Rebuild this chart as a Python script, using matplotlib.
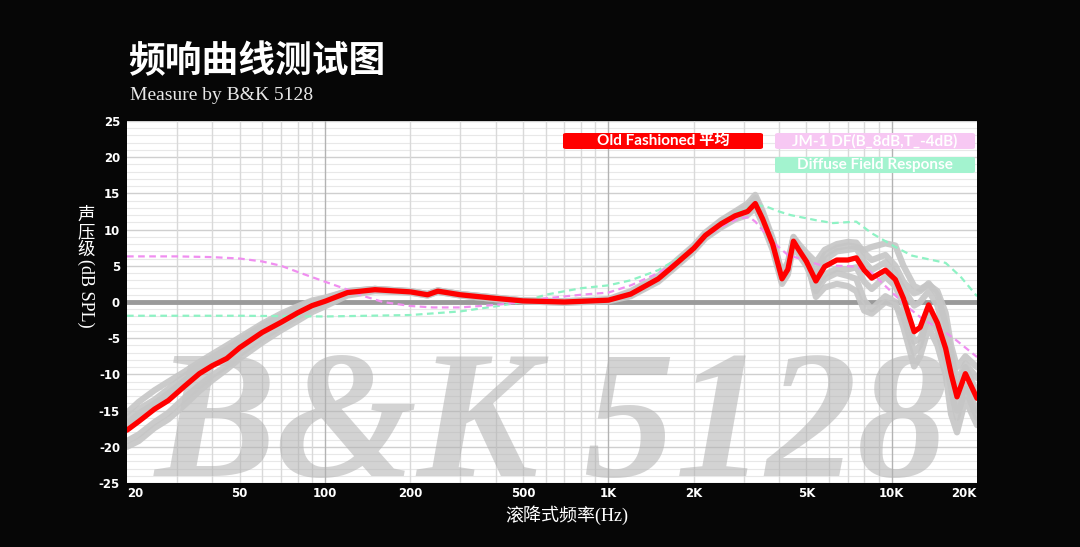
import matplotlib.pyplot as plt
from matplotlib.patches import FancyBboxPatch

# frequency grid used for the measured curves (Hz)
freq = [20, 22, 25, 28, 32, 36, 40, 45, 50, 60, 70, 80, 90, 100, 120, 150, 200, 230, 250, 300,
        400, 500, 700, 1000, 1200, 1500, 1700, 2000, 2200, 2500, 2800, 3100, 3300, 3500, 3800,
        4100, 4300, 4500, 4700, 5000, 5400, 5800, 6400, 7000, 7500, 8000, 8500, 9500, 10300,
        11000, 12000, 12600, 13500, 14500, 15500, 16200, 17000, 18200, 20000]

# Old Fashioned average (red)
avg_db = [-17.7, -16.5, -14.8, -13.6, -11.6, -9.9, -8.8, -7.8, -6.3, -4.2, -2.8, -1.5, -0.5, 0.1,
          1.3, 1.7, 1.4, 1.0, 1.5, 1.0, 0.5, 0.15, 0.0, 0.25, 1.1, 3.2, 5.0, 7.4, 9.2, 10.8, 11.9,
          12.5, 13.6, 11.5, 8.0, 3.2, 4.5, 8.4, 7.2, 5.6, 2.9, 4.9, 5.8, 5.8, 6.1, 4.4, 3.3, 4.4,
          3.1, 0.5, -4.1, -3.5, -0.4, -2.9, -6.4, -9.9, -13.1, -9.9, -13.3]

# individual measurements (gray)
meas_1 = [-15.3, -13.8, -12.2, -11.0, -9.6, -8.3, -7.2, -6.0, -4.9, -3.0, -1.6, -0.6, 0.2, 0.6,
          1.5, 1.8, 1.5, 1.1, 1.6, 1.1, 0.6, 0.2, 0.1, 0.4, 1.5, 3.6, 5.4, 7.8, 9.6, 11.3, 12.5,
          13.6, 14.8, 12.6, 8.8, 4.0, 5.5, 9.0, 8.0, 6.8, 5.5, 7.2, 8.0, 8.3, 8.2, 6.8, 5.8, 6.5,
          5.0, 2.8, 1.2, 1.5, 2.6, 1.0, -3.0, -7.0, -11.0, -8.5, -10.5]
meas_2 = [-20.0, -19.2, -17.4, -16.2, -14.2, -12.3, -10.8, -9.3, -7.8, -5.6, -3.9, -2.6, -1.4, -0.6,
          0.9, 1.5, 1.3, 0.9, 1.4, 0.9, 0.4, 0.1, -0.1, 0.1, 0.8, 2.8, 4.6, 7.0, 8.8, 10.3, 11.4,
          12.0, 13.0, 10.8, 7.2, 2.5, 3.8, 7.8, 6.5, 5.0, 2.0, 3.8, 4.6, 4.5, 4.8, 2.8, 1.8, 3.5,
          2.2, -0.5, -5.5, -5.0, -2.0, -4.0, -8.0, -11.5, -15.0, -11.5, -15.0]
meas_3 = [-16.8, -15.4, -14.0, -12.6, -10.8, -9.2, -8.0, -6.9, -5.6, -3.6, -2.2, -1.0, -0.2, 0.4,
          1.4, 1.8, 1.4, 1.0, 1.5, 1.0, 0.5, 0.2, 0.0, 0.3, 1.2, 3.4, 5.2, 7.6, 9.4, 11.0, 12.2,
          12.8, 14.0, 12.0, 8.4, 3.6, 5.0, 8.8, 7.6, 6.0, 0.7, 2.0, 2.5, 2.2, 1.5, -1.2, -1.6, 0.0,
          -0.5, -2.0, -7.0, -6.0, -1.5, -3.5, -7.5, -12.0, -16.0, -12.0, -16.0]
meas_4 = [-16.0, -14.8, -13.5, -12.0, -10.2, -8.8, -7.6, -6.5, -5.3, -3.3, -1.9, -0.8, 0.0, 0.5,
          1.5, 1.8, 1.5, 1.1, 1.6, 1.1, 0.6, 0.2, 0.1, 0.3, 1.3, 3.4, 5.2, 7.5, 9.4, 11.2, 12.4,
          13.2, 14.3, 12.2, 8.6, 3.8, 5.2, 8.8, 7.5, 6.2, 4.2, 6.5, 7.5, 7.8, 7.6, 7.2, 7.6, 8.1,
          7.8, 5.0, 2.2, 1.8, 2.4, 1.5, -1.5, -6.0, -9.0, -7.5, -9.0]
meas_5 = [-19.2, -18.3, -16.6, -15.3, -13.2, -11.5, -10.1, -8.8, -7.2, -5.0, -3.4, -2.1, -1.0, -0.3,
          1.1, 1.6, 1.3, 0.9, 1.4, 0.9, 0.4, 0.1, -0.1, 0.2, 0.9, 3.0, 4.8, 7.2, 9.0, 10.5, 11.6,
          12.3, 13.3, 11.2, 7.6, 2.8, 4.3, 8.2, 7.0, 5.4, 1.5, 3.2, 4.0, 3.6, 3.2, 0.2, -1.0, 0.8,
          0.0, -3.5, -8.9, -7.5, -3.5, -6.0, -10.0, -15.5, -18.0, -13.5, -17.0]
meas_6 = [-17.0, -15.8, -14.4, -13.0, -11.2, -9.5, -8.4, -7.3, -6.0, -3.9, -2.5, -1.2, -0.3, 0.3,
          1.4, 1.8, 1.5, 1.1, 1.6, 1.1, 0.6, 0.2, 0.1, 0.3, 1.2, 3.3, 5.1, 7.5, 9.3, 10.9, 12.2,
          13.0, 14.3, 12.0, 8.2, 3.4, 4.8, 8.6, 7.4, 5.9, 3.5, 5.8, 7.0, 7.2, 7.4, 5.6, 4.4, 5.5,
          4.0, 1.8, -0.5, 0.0, 1.5, -0.5, -5.0, -8.5, -12.5, -9.0, -12.5]
measurements = [meas_1, meas_2, meas_3, meas_4, meas_5, meas_6]

# JM-1 DF target (pink dashed)
jm_freq = [20, 30, 40, 50, 60, 70, 82, 100, 122, 140, 160, 200, 240, 300, 400, 500, 600, 800,
           1000, 1200, 1500, 1700, 1950, 2200, 2500, 2900, 3150, 3300, 3800, 4300, 5000, 5600,
           6500, 7400, 8400, 9800, 11300, 13000, 15100, 16800, 20000]
jm_db = [6.3, 6.3, 6.2, 6.0, 5.6, 5.0, 4.0, 2.8, 1.6, 0.7, 0.0, -0.55, -0.75, -0.75, -0.4, 0.0,
         0.5, 1.0, 1.3, 2.3, 4.0, 5.3, 6.9, 9.0, 10.4, 11.6, 11.7, 11.1, 8.3, 6.5, 5.7, 5.1, 5.0,
         4.9, 4.2, 1.7, -0.6, -2.5, -3.9, -5.2, -7.6]

# Diffuse field response (green dashed)
df_freq = [20, 50, 100, 200, 300, 400, 500, 600, 800, 1000, 1200, 1500, 1850, 2200, 2500, 2900,
           3300, 3600, 4000, 4400, 5400, 6200, 7500, 8500, 10300, 11800, 13500, 15500, 17500, 20000]
df_db = [-1.9, -1.9, -2.0, -1.8, -1.3, -0.6, 0.0, 1.0, 1.9, 2.3, 3.0, 4.4, 6.5, 9.2, 11.1, 12.5,
         13.4, 13.2, 12.5, 12.0, 11.3, 10.9, 11.1, 9.5, 7.6, 6.4, 5.9, 5.4, 3.5, 0.8]

x_ticks = [20, 50, 100, 200, 500, 1000, 2000, 5000, 10000, 20000]
x_labels = ['20', '50', '100', '200', '500', '1K', '2K', '5K', '10K', '20K']
y_ticks = [25, 20, 15, 10, 5, 0, -5, -10, -15, -20, -25]

W, H = 1080, 547
fig = plt.figure(figsize=(W / 100, H / 100), dpi=100)
fig.patch.set_facecolor('#060606')

# plot area in pixels: x 127..977, y 121..483
ax = fig.add_axes([127 / W, (H - 483) / H, 850 / W, 362 / H])
ax.set_facecolor('white')
ax.set_xscale('log')
ax.set_xlim(20, 20000)
ax.set_ylim(-25, 25)
for s in ax.spines.values():
    s.set_visible(False)

# grid
for v in range(-25, 26):
    if v == 0:
        continue
    if v % 5 == 0:
        ax.axhline(v, color='#cfcfcf', lw=1.0, zorder=1)
    else:
        ax.axhline(v, color='#e8e8e8', lw=0.8, zorder=1)
for dec in [10, 100, 1000, 10000]:
    for m in range(1, 10):
        f = m * dec
        if f <= 20 or f >= 20000:
            continue
        ax.axvline(f, color='#b3b3b3' if m == 1 else '#d9d9d9', lw=1.0, zorder=1)
ax.axhline(0, color='#9a9a9a', lw=3.5, zorder=1.2)

# watermark
ax.text(0.5, 0.018, 'B&K 5128', transform=ax.transAxes, ha='center', va='baseline',
        fontsize=131, family='Liberation Serif', weight='bold', style='italic',
        color='#b0b0b0', alpha=0.55, zorder=1.5, clip_on=True)

# curves
for m in measurements:
    ax.plot(freq, m, color='#c6c6c6', lw=4.5, alpha=0.9, zorder=3,
            solid_joinstyle='round', solid_capstyle='round')
ax.plot(df_freq, df_db, color='#8ef2c4', lw=1.6, ls=(0, (3, 2)), zorder=4)
ax.plot(jm_freq, jm_db, color='#f08ef0', lw=1.6, ls=(0, (3, 2)), zorder=4)
ax.plot(freq, avg_db, color='#ff0000', lw=3.8, zorder=5,
        solid_joinstyle='round', solid_capstyle='round')

# ticks
ax.set_xticks(x_ticks)
ax.set_xticklabels(x_labels)
ax.xaxis.set_minor_locator(plt.NullLocator())
ax.set_yticks(y_ticks)
ax.set_yticklabels([str(v) for v in y_ticks])
ax.tick_params(length=0, colors='white', labelsize=8.5)
ax.tick_params(axis='x', pad=3)
ax.tick_params(axis='y', pad=5)
for lab in ax.get_xticklabels() + ax.get_yticklabels():
    lab.set_fontweight('bold')
    lab.set_family('DejaVu Sans')
xl = ax.get_xticklabels()
xl[0].set_ha('left')
xl[-1].set_ha('right')


# legend boxes, drawn in pixel coordinates of the figure
def legend_box(x0, y0, x1, y1, color, text):
    box = FancyBboxPatch((x0 / W, 1 - y1 / H), (x1 - x0) / W, (y1 - y0) / H,
                         boxstyle='round,pad=0,rounding_size=0.003',
                         transform=fig.transFigure, facecolor=color, edgecolor='none',
                         zorder=10)
    fig.add_artist(box)
    fig.text((x0 + x1) / 2 / W, 1 - (y0 + y1) / 2 / H, text, ha='center', va='center',
             color='white', fontsize=11, weight='bold',
             family=['Lato', 'Noto Sans CJK SC'], zorder=11)


legend_box(563, 133, 763, 149, '#ff0000', 'Old Fashioned 平均')
legend_box(775, 133, 975, 149, '#f7c8f3', 'JM-1 DF(B_8dB,T_-4dB)')
legend_box(775, 157, 975, 173, '#a3f3cf', 'Diffuse Field Response')

# titles
fig.text(128 / W, 1 - 62 / H, '频响曲线测试图', color='white', fontsize=26.5,
         weight='bold', family=['Noto Sans CJK SC'], ha='left', va='center')
fig.text(130 / W, 1 - 95 / H, 'Measure by B&K 5128', color='#e8e8e8', fontsize=14,
         family='Liberation Serif', ha='left', va='center')

# y label written vertically
fig.text(86 / W, 1 - 206 / H, '声\n压\n级', color='white', fontsize=12.5,
         family=['Noto Sans CJK SC'], ha='center', va='top', linespacing=0.95)
fig.text(86 / W, 1 - 259 / H, '(dB SPL)', color='white', fontsize=13,
         family='Liberation Serif', rotation=-90, ha='center', va='top')

# x label
fig.text(567 / W, 1 - 515 / H, '滚降式频率(Hz)', color='white', fontsize=13,
         family=['Liberation Serif', 'Noto Sans CJK SC'], ha='center', va='center')

fig.savefig('out.png', dpi=100, facecolor=fig.get_facecolor())
